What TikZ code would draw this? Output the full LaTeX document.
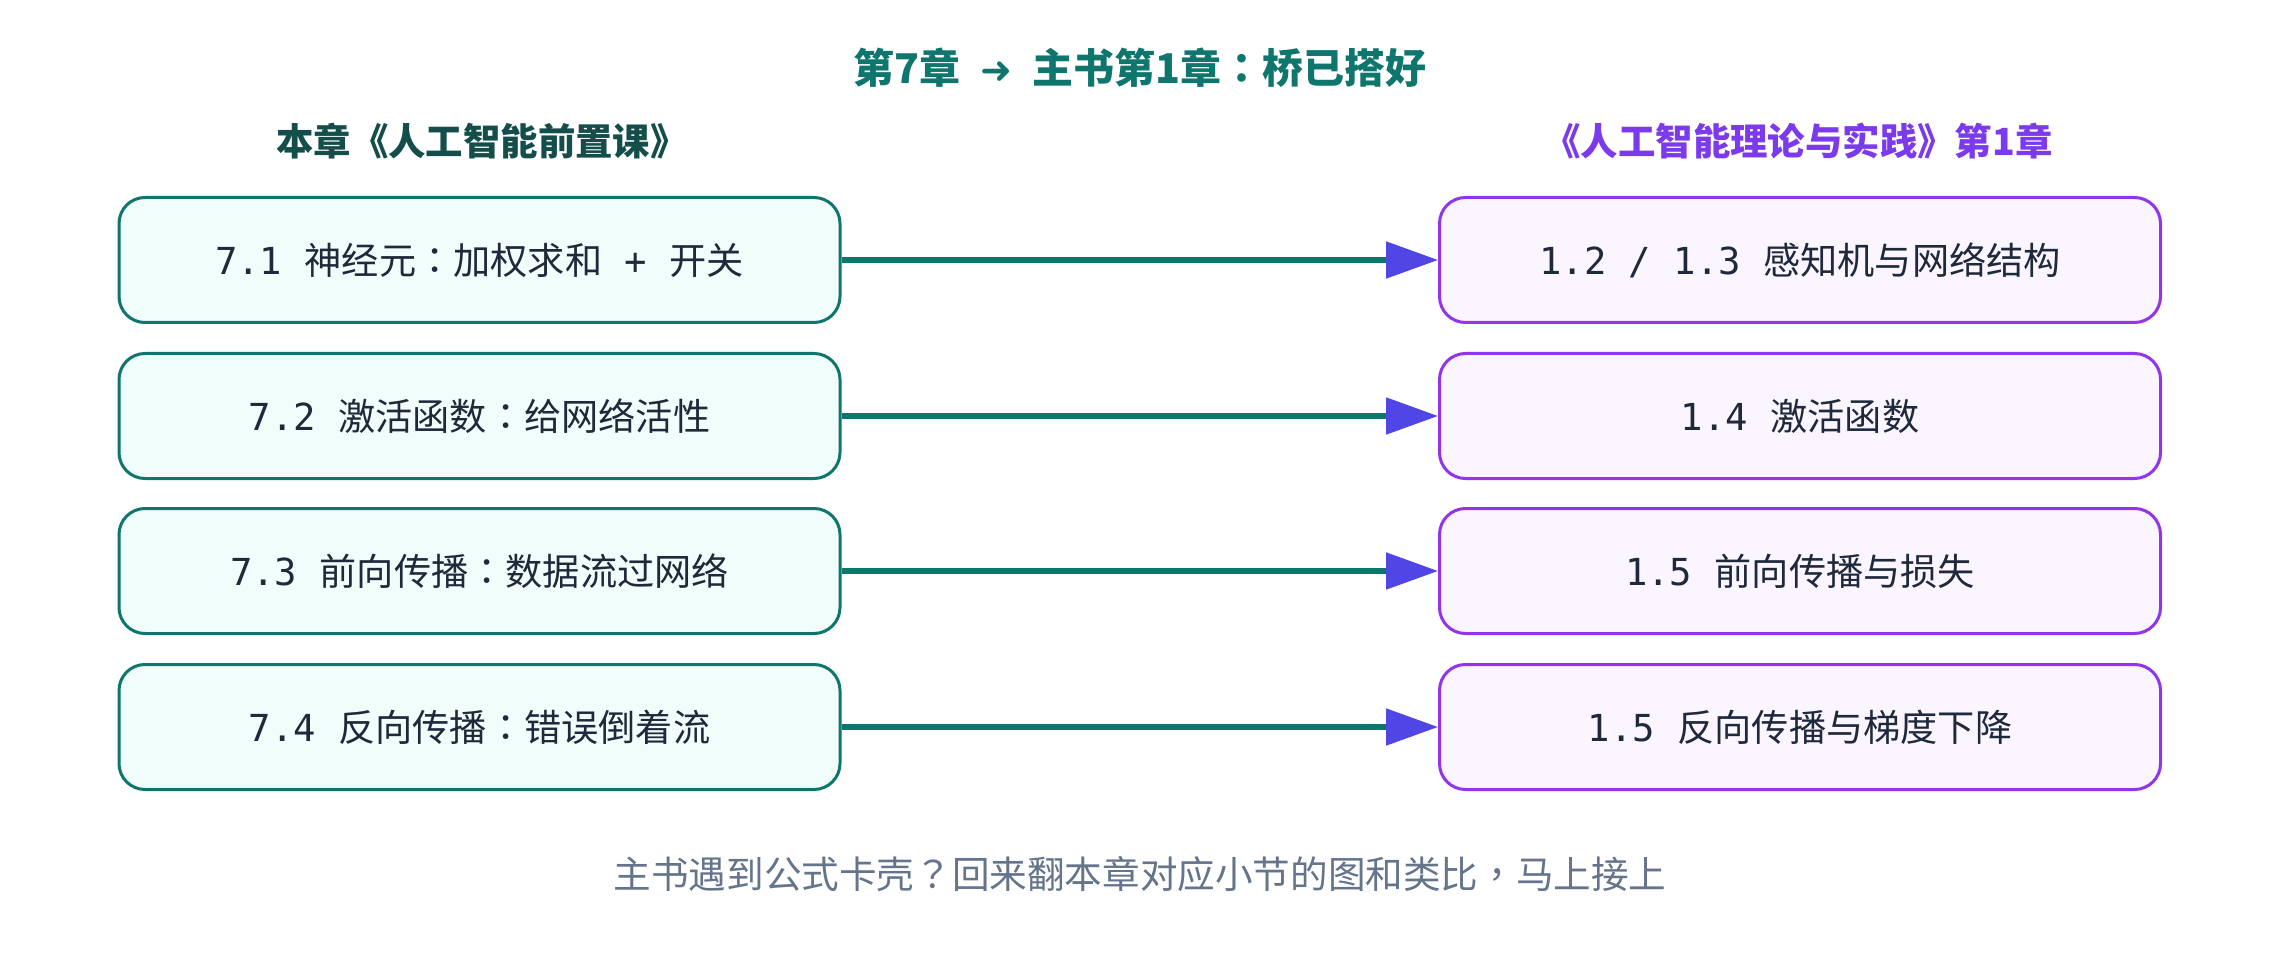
\documentclass[tikz,border=0pt]{standalone}
\usepackage{fontspec}
\setmainfont{Noto Sans CJK SC}
\newfontfamily\tcf{Noto Sans CJK TC}
\newfontfamily\mono{DejaVu Sans Mono}
\newfontfamily\dejavu{DejaVu Sans}
\newcommand{\cc}{{\tcf ：}}
\usetikzlibrary{arrows.meta}
\definecolor{teal7}{HTML}{0F766E}
\definecolor{teal9}{HTML}{134E4A}
\definecolor{mintbg}{HTML}{F0FDFA}
\definecolor{violet6}{HTML}{7C3AED}
\definecolor{purple6}{HTML}{9333EA}
\definecolor{purplebg}{HTML}{FAF5FF}
\definecolor{indigo6}{HTML}{4F46E5}
\definecolor{slate8}{HTML}{1E293B}
\definecolor{slate5}{HTML}{64748B}
\tikzset{
  lbox/.style={draw=teal7, fill=mintbg, line width=1.5pt, rounded corners=13pt,
    minimum width=360.5pt, minimum height=62.5pt, inner sep=0pt,
    font=\fontsize{18.6pt}{22pt}\selectfont, text=slate8},
  rbox/.style={lbox, draw=purple6, fill=purplebg},
  link/.style={draw=teal7, line width=2.6pt,
    -{Triangle[length=26pt,width=18pt,color=indigo6,fill=indigo6]}},
  hdr/.style={font=\fontsize{18.7pt}{22pt}\selectfont\bfseries},
}
\begin{document}
\begin{tikzpicture}[x=0.5pt,y=0.5pt]
\useasboundingbox[fill=white] (0,0) rectangle (2280,960);
\node[font=\fontsize{20.5pt}{24pt}\selectfont\bfseries, text=teal7] (title) at (1140,892) {第7章\hspace{0.48em}{\dejavu\fontsize{19pt}{22pt}\selectfont ➜}\hspace{0.48em}主书第1章{\tcf\bfseries ：}桥已搭好};
\node[hdr, text=teal9] (hl) at (482,819) {本章《人工智能前置课》};
\node[hdr, text=violet6] (hr) at (1798,819) {《人工智能理论与实践》第1章};

\node[lbox] (l1) at (479.5,700) {{\mono 7.1 }神经元\cc 加权求和{\mono\ +\ }开关};
\node[lbox] (l2) at (479.5,544) {{\mono 7.2 }激活函数\cc 给网络活性};
\node[lbox] (l3) at (479.5,389) {{\mono 7.3 }前向传播\cc 数据流过网络};
\node[lbox] (l4) at (479.5,233) {{\mono 7.4 }反向传播\cc 错误倒着流};

\node[rbox] (r1) at (1800,700) {{\mono 1.2 / 1.3 }感知机与网络结构};
\node[rbox] (r2) at (1800,544) {{\mono 1.4 }激活函数};
\node[rbox] (r3) at (1800,389) {{\mono 1.5 }前向传播与损失};
\node[rbox] (r4) at (1800,233) {{\mono 1.5 }反向传播与梯度下降};

\draw[link] (l1) -- (r1);
\draw[link] (l2) -- (r2);
\draw[link] (l3) -- (r3);
\draw[link] (l4) -- (r4);

\node[font=\fontsize{18.8pt}{22pt}\selectfont, text=slate5] (foot) at (1140,86) {主书遇到公式卡壳{\tcf ？}回来翻本章对应小节的图和类比{\tcf ，}马上接上};
\end{tikzpicture}
\end{document}
